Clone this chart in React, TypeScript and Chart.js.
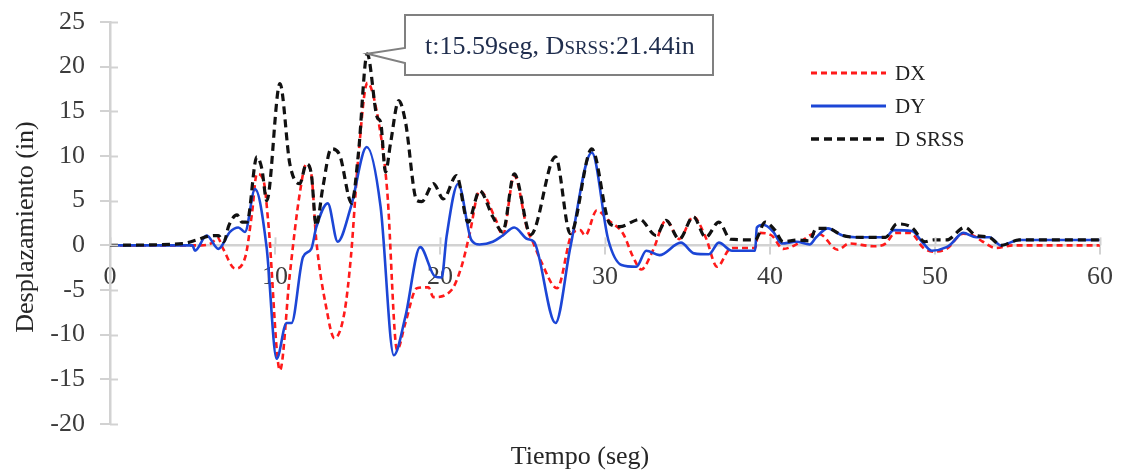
import React, { useEffect, useRef } from "react";
import { Chart, registerables } from "chart.js";

Chart.register(...registerables);

// ---- Data ----
const dxTimes = [0, 4, 5.5, 6.2, 6.5, 6.86, 7.58, 8.2, 8.6, 8.9, 9.3, 9.6, 10.3, 10.9, 11.5, 11.9, 12.2, 12.5, 13.1, 13.6, 14.2, 14.6, 15.05, 15.6, 16.3, 16.8, 17.4, 17.9, 18.6, 19.3, 19.6, 20.7, 21.3, 21.8, 22.4, 23.4, 23.8, 24.5, 25.3, 25.6, 26.1, 27.1, 28.0, 28.5, 28.8, 29.5, 30.2, 31.1, 31.7, 32.2, 32.9, 33.7, 34.5, 35.35, 36.1, 36.8, 37.5, 37.8, 39.1, 39.3, 40.1, 40.8, 41.7, 42.7, 43.1, 44.1, 44.8, 46.3, 47.0, 47.6, 48.5, 49.3, 49.9, 50.7, 51.7, 52.3, 52.9, 53.7, 54.7, 60];
const dxValues = [0, 0, 0, 0.3, 0.9, -0.4, -2.6, -1.3, 3.5, 8.0, 7.3, 2.4, -14.0, -3.2, 5.8, 9.1, 8.0, 0.6, -6.9, -10.4, -7.6, -1.3, 9.9, 18.2, 13.6, 6.1, -11.7, -8.7, -4.8, -4.7, -5.8, -5.0, -2.4, 1.3, 6.1, 2.8, 1.1, 7.8, 1.7, 0.5, -1.7, -4.8, 1.3, 1.7, 1.1, 3.9, 2.8, 1.3, -1.3, -2.7, -0.6, 2.8, 0.7, 3.2, 0.9, -2.4, -0.5, -0.3, -0.3, 1.4, 1.1, -0.4, 0.2, 1.3, 1.2, -0.5, 0.2, -0.1, 0.2, 1.4, 1.4, -0.3, -0.7, -0.4, 1.3, 1.1, 0.4, -0.3, 0.0, 0.0];

const dyTimes = [0, 5.0, 5.15, 5.86, 6.57, 7.27, 7.78, 8.18, 8.79, 9.49, 10.1, 10.7, 11.0, 11.7, 12.2, 12.5, 13.2, 13.8, 14.6, 15.56, 16.4, 17.2, 17.9, 18.8, 19.7, 20.1, 20.4, 21.1, 21.9, 22.4, 23.2, 23.8, 24.5, 25.3, 25.7, 27.0, 27.9, 29.2, 30.2, 31.0, 31.9, 32.5, 33.3, 34.6, 35.4, 36.3, 36.9, 37.7, 39.1, 39.2, 39.6, 40.2, 40.7, 41.6, 42.4, 42.8, 43.5, 44.4, 45.5, 47.0, 47.5, 48.6, 49.3, 49.8, 50.7, 51.0, 51.7, 52.5, 53.3, 54.0, 55.1, 60];
const dyValues = [0, 0, -0.6, 1.1, -0.4, 1.5, 2.0, 1.5, 6.3, -0.2, -12.7, -8.7, -8.7, -1.3, -0.4, 2.0, 4.7, 0.4, 4.3, 11.0, 4.3, -12.3, -8.0, -0.2, -3.5, -3.6, 1.0, 6.9, 0.6, 0.1, 0.4, 1.1, 2.0, 0.7, 0.4, -8.7, -0.2, 10.4, 0.6, -2.2, -2.4, -0.6, -1.1, 0.3, -0.9, -1.0, 0.3, -0.6, -0.6, 2.0, 2.3, 1.5, 0.2, 0.4, 0.1, 0.9, 1.9, 1.1, 0.9, 0.9, 1.7, 1.6, 0.2, -0.6, -0.2, 0.2, 1.4, 0.9, 0.9, 0.0, 0.6, 0.6];

const srssTimes = [0, 4.4, 5.25, 5.9, 6.56, 6.9, 7.2, 7.7, 8.0, 8.3, 8.9, 9.2, 9.5, 10.3, 10.9, 11.5, 11.9, 12.2, 12.5, 12.9, 13.4, 13.9, 14.65, 15.05, 15.59, 16.2, 16.4, 16.7, 17.0, 17.5, 17.9, 18.6, 18.9, 19.6, 20.2, 21.0, 21.7, 22.4, 23.2, 23.8, 24.5, 25.5, 27.0, 27.9, 29.2, 30.3, 30.9, 32.1, 33.1, 33.7, 34.5, 35.35, 36.1, 36.9, 37.6, 39.1, 39.7, 40.3, 40.8, 41.7, 42.4, 42.8, 43.5, 44.4, 45.5, 47.0, 47.7, 48.6, 49.4, 49.9, 50.7, 51.8, 52.5, 53.3, 54.0, 55.1, 60];
const srssValues = [0, 0.2, 0.6, 1.0, 1.1, 0.4, 2.2, 3.4, 2.6, 2.6, 9.9, 8.6, 5.0, 18.1, 9.1, 6.9, 9.1, 8.0, 2.2, 6.5, 10.8, 10.2, 4.7, 10.2, 21.44, 14.3, 13.8, 8.2, 11.4, 16.2, 13.9, 5.0, 4.9, 6.9, 5.2, 7.8, 2.6, 6.1, 3.2, 1.5, 8.0, 1.2, 9.9, 1.3, 10.8, 2.4, 2.1, 2.9, 1.1, 2.8, 0.7, 3.2, 0.9, 2.6, 0.7, 0.6, 2.6, 1.7, 0.4, 0.6, 0.5, 1.9, 1.9, 1.1, 0.9, 0.9, 2.4, 2.0, 0.4, 0.6, 0.6, 2.0, 1.1, 0.9, 0.0, 0.6, 0.6];

const seriesLabels = ["DX", "DY", "D SRSS"];
const xTicks = [0, 10, 20, 30, 40, 50, 60];
const yTicks = [-20, -15, -10, -5, 0, 5, 10, 15, 20, 25];
const peakTime = 15.59;
const peakValue = 21.44;
const xTitle = "Tiempo (seg)";
const yTitle = "Desplazamiento (in)";

const RED = "#ff1a1a";
const BLUE = "#1c46d6";
const BLACK = "#111111";
const AXIS = "#d2d2d2";
const SERIF = "'Liberation Serif', 'DejaVu Serif', serif";

const toPoints = (ts: number[], vs: number[]) => ts.map((t, i) => ({ x: t, y: vs[i] }));

const overlay = {
  id: "overlay",
  afterDraw(chart: any) {
    const { ctx, scales } = chart;
    const x = scales.x;
    const y = scales.y;
    const y0 = y.getPixelForValue(0);
    ctx.save();
    // inner halves of tick marks
    ctx.strokeStyle = AXIS;
    ctx.lineWidth = 2;
    yTicks.forEach((v) => {
      const py = Math.round(y.getPixelForValue(v)) + 0.5;
      ctx.beginPath();
      ctx.moveTo(x.left, py);
      ctx.lineTo(x.left + 8, py);
      ctx.stroke();
    });
    xTicks.forEach((v) => {
      const px = Math.round(x.getPixelForValue(v)) + 0.5;
      ctx.beginPath();
      ctx.moveTo(px, y0 - 8);
      ctx.lineTo(px, y0);
      ctx.stroke();
    });

    // axis titles
    ctx.fillStyle = "#262626";
    ctx.font = `26px ${SERIF}`;
    ctx.textAlign = "center";
    ctx.textBaseline = "middle";
    ctx.fillText(xTitle, (x.left + x.right) / 2 - 25, 457);
    ctx.save();
    ctx.translate(26, 227);
    ctx.rotate(-Math.PI / 2);
    ctx.fillText(yTitle, 0, 0);
    ctx.restore();

    // legend
    const legendItems = [
      { label: seriesLabels[0], color: RED, dash: [6, 4], width: 3, y: 73 },
      { label: seriesLabels[1], color: BLUE, dash: [], width: 3, y: 106 },
      { label: seriesLabels[2], color: BLACK, dash: [8, 5], width: 3.5, y: 139 },
    ];
    legendItems.forEach((it) => {
      ctx.strokeStyle = it.color;
      ctx.lineWidth = it.width;
      ctx.setLineDash(it.dash);
      ctx.beginPath();
      ctx.moveTo(811, it.y);
      ctx.lineTo(886, it.y);
      ctx.stroke();
      ctx.setLineDash([]);
      ctx.fillStyle = "#222222";
      ctx.font = `21px ${SERIF}`;
      ctx.textAlign = "left";
      ctx.textBaseline = "middle";
      ctx.fillText(it.label, 895, it.y + 1);
    });

    // callout annotation
    const tipX = x.getPixelForValue(peakTime);
    const tipY = y.getPixelForValue(peakValue);
    const bx = 405, by = 15, bw = 308, bh = 60;
    ctx.beginPath();
    ctx.moveTo(bx, by);
    ctx.lineTo(bx + bw, by);
    ctx.lineTo(bx + bw, by + bh);
    ctx.lineTo(bx, by + bh);
    ctx.lineTo(bx, 63);
    ctx.lineTo(tipX, tipY);
    ctx.lineTo(bx, 48);
    ctx.closePath();
    ctx.fillStyle = "#ffffff";
    ctx.fill();
    ctx.strokeStyle = "#808080";
    ctx.lineWidth = 2;
    ctx.stroke();

    const partA = `t:${peakTime}seg, D`;
    const partB = "SRSS";
    const partC = `:${peakValue}in`;
    const big = `26px ${SERIF}`;
    const small = `19px ${SERIF}`;
    ctx.textAlign = "left";
    ctx.textBaseline = "alphabetic";
    ctx.fillStyle = "#1f2d4d";
    let cx = 425;
    const base = 54;
    ctx.font = big;
    ctx.fillText(partA, cx, base);
    cx += ctx.measureText(partA).width;
    ctx.font = small;
    ctx.fillText(partB, cx, base);
    cx += ctx.measureText(partB).width;
    ctx.font = big;
    ctx.fillText(partC, cx, base);
    ctx.restore();
  },
};

export default function App() {
  const canvasRef = useRef<HTMLCanvasElement | null>(null);

  useEffect(() => {
    if (!canvasRef.current) return;
    const chart = new Chart(canvasRef.current, {
      type: "line",
      data: {
        datasets: [
          {
            label: seriesLabels[0],
            data: toPoints(dxTimes, dxValues),
            borderColor: RED,
            borderWidth: 2.6,
            borderDash: [6, 4],
            pointRadius: 0,
            cubicInterpolationMode: "monotone",
            fill: false,
            order: 3,
          },
          {
            label: seriesLabels[1],
            data: toPoints(dyTimes, dyValues),
            borderColor: BLUE,
            borderWidth: 2.6,
            pointRadius: 0,
            cubicInterpolationMode: "monotone",
            fill: false,
            order: 2,
          },
          {
            label: seriesLabels[2],
            data: toPoints(srssTimes, srssValues),
            borderColor: BLACK,
            borderWidth: 3.2,
            borderDash: [8, 5],
            pointRadius: 0,
            cubicInterpolationMode: "monotone",
            fill: false,
            order: 1,
          },
        ],
      },
      options: {
        animation: false,
        responsive: true,
        maintainAspectRatio: false,
        layout: { padding: { left: 0, right: 23, top: 22, bottom: 51 } },
        plugins: {
          legend: { display: false },
          tooltip: { enabled: false },
        },
        scales: {
          x: {
            type: "linear",
            position: { y: 0 } as any,
            min: 0,
            max: 60,
            afterBuildTicks: (s: any) => {
              s.ticks = xTicks.map((v) => ({ value: v }));
            },
            afterFit: (s: any) => {
              s.paddingLeft = 0;
              s.paddingRight = 0;
            },
            ticks: {
              color: "#3c3c3c",
              font: { family: SERIF, size: 26 },
              padding: 8,
              maxRotation: 0,
            },
            grid: {
              drawOnChartArea: false,
              drawTicks: true,
              tickLength: 8,
              color: AXIS,
              lineWidth: 2,
            },
            border: { display: true, color: AXIS, width: 2.5 },
          },
          y: {
            type: "linear",
            min: -20,
            max: 25,
            afterBuildTicks: (s: any) => {
              s.ticks = yTicks.map((v) => ({ value: v }));
            },
            afterFit: (s: any) => {
              s.width = 110;
              s.paddingTop = 0;
              s.paddingBottom = 0;
            },
            ticks: {
              color: "#3c3c3c",
              font: { family: SERIF, size: 26 },
              padding: 15,
            },
            grid: {
              drawOnChartArea: false,
              drawTicks: true,
              tickLength: 10,
              color: AXIS,
              lineWidth: 2,
            },
            border: { display: true, color: AXIS, width: 2.5 },
          },
        },
      },
      plugins: [overlay],
    });
    return () => chart.destroy();
  }, []);

  return (
    <div style={{ position: "fixed", left: 0, top: 0, width: 1123, height: 475, background: "#ffffff" }}>
      <canvas ref={canvasRef} />
    </div>
  );
}
